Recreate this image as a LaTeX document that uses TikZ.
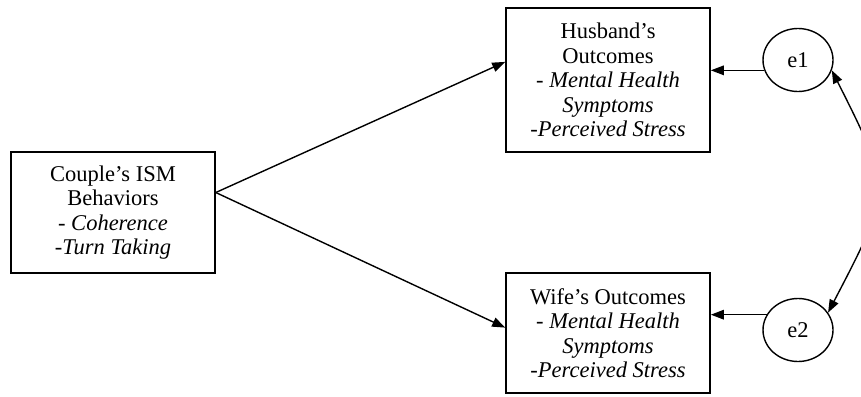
\documentclass[tikz,border=0pt]{standalone}
\usepackage{fontspec}
\setmainfont{Liberation Serif}
\usetikzlibrary{arrows.meta,shapes.geometric}

\begin{document}
\begin{tikzpicture}[x=1pt,y=-1pt,line width=1.4pt,
  >={Triangle[length=13pt,width=9.5pt]},
  box/.style={draw,rectangle,inner sep=0pt,minimum width=204pt,align=center,
    line width=1.6pt,font=\fontsize{22.5}{24.5}\selectfont},
  err/.style={draw,ellipse,inner sep=0pt,minimum width=70pt,minimum height=63pt,
    font=\fontsize{22.5}{24.5}\selectfont}]
  \useasboundingbox (0,0) rectangle (861,396);

  \node[box,minimum height=121pt] (ISM) at (113,212.5)
    {Couple’s ISM\\Behaviors\\ - \textit{Coherence}\\\textit{-Turn Taking}};
  \node[box,minimum height=144pt] (H) at (608,80)
    {Husband’s\\Outcomes\\ - \textit{Mental Health}\\\textit{Symptoms}\\\textit{-Perceived Stress}};
  \node[box,minimum height=120pt] (W) at (608,333)
    {Wife’s Outcomes\\ - \textit{Mental Health}\\\textit{Symptoms}\\\textit{-Perceived Stress}};
  \node[err] (e1) at (798,60) {e1};
  \node[err] (e2) at (798,330) {e2};

  \path[->] (ISM.11) edge (H.170);
  \path[->] (ISM.11) edge (W.177);
  \draw[->] (e1.197) -- (e1.197 -| H.east);
  \draw[->] (e2.154) -- (e2.154 -| W.east);
  \draw[<->] (e1.-17) .. controls (892,190) .. (e2.30);
\end{tikzpicture}
\end{document}
